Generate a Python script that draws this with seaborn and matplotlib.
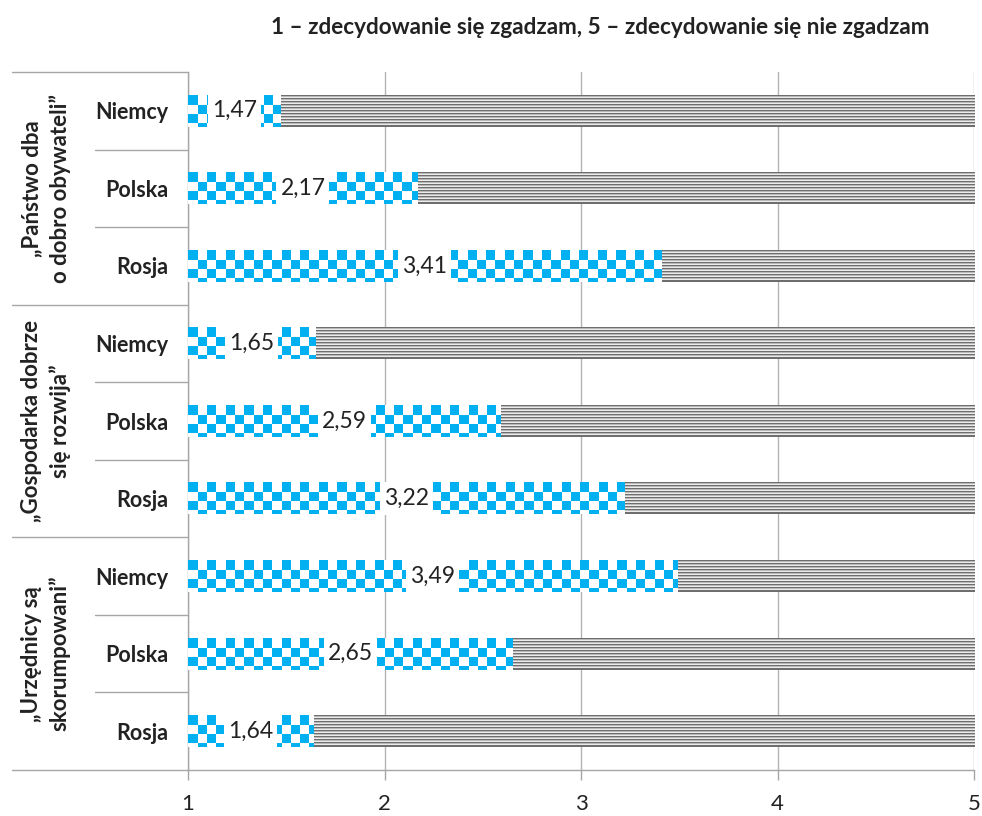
import numpy as np
import pandas as pd
import matplotlib
matplotlib.use("Agg")
import matplotlib.pyplot as plt
import matplotlib.transforms as mtransforms
from matplotlib.lines import Line2D
from matplotlib.patches import Rectangle
import seaborn as sns

# dane
groups = ["„Państwo dba\no dobro obywateli”",
          "„Gospodarka dobrze\nsię rozwija”",
          "„Urzędnicy są\nskorumpowani”"]
countries = ["Niemcy", "Polska", "Rosja"]
scores = [1.47, 2.17, 3.41,
          1.65, 2.59, 3.22,
          3.49, 2.65, 1.64]
scale_ticks = [1, 2, 3, 4, 5]
title = "1 – zdecydowanie się zgadzam, 5 – zdecydowanie się nie zgadzam"

sns.set_theme(style="white")
plt.rcParams['font.family'] = ['Lato', 'DejaVu Sans']
plt.rcParams['text.color'] = '#222222'

rows = [f"{g}|{c}" for g in groups for c in countries]
df = pd.DataFrame({
    "row": rows,
    "country": countries * len(groups),
    "score": scores,
    "top": [scale_ticks[-1]] * len(rows),
})

W, H = 982, 816
fig = plt.figure(figsize=(W / 100, H / 100), dpi=100)
ax = fig.add_axes([188 / W, 46 / H, 786 / W, 698 / H])

sns.barplot(data=df, x="top", y="row", order=rows, orient="h", width=0.41,
            color="#d9d9d9", errorbar=None, ax=ax, zorder=2)
sns.barplot(data=df, x="score", y="row", order=rows, orient="h", width=0.41,
            color="#00b0f0", errorbar=None, ax=ax, zorder=3)

ax.set_xlim(scale_ticks[0], scale_ticks[-1])
ax.set_ylim(len(rows) - 0.5, -0.5)

blue = np.array([0, 176, 240]) / 255
white = np.array([1.0, 1.0, 1.0])
stripe_cols = np.array([[110, 110, 110], [185, 185, 185], [235, 235, 235]]) / 255


def fill_with_pattern(patch, kind, z):
    x0, y0 = patch.get_x(), patch.get_y()
    w, h = patch.get_width(), patch.get_height()
    x0c = max(x0, scale_ticks[0])
    x1 = x0 + w
    (px0, py0), (px1, py1) = ax.transData.transform([(x0c, y0), (x1, y0 + h)])
    wpx = max(int(round(abs(px1 - px0))), 1)
    hpx = max(int(round(abs(py1 - py0))), 1)
    jj, ii = np.meshgrid(np.arange(wpx), np.arange(hpx))
    if kind == "checker":
        sq = 9.3
        mask = ((ii // sq).astype(int) + (jj // sq).astype(int)) % 2 == 0
        img = np.where(mask[..., None], blue, white)
    else:
        idx = ii % 3
        idx[0, :] = 0
        idx[-1, :] = 0
        img = stripe_cols[idx]
    ax.imshow(img, extent=(x0c, x1, y0 + h, y0), origin="upper",
              aspect="auto", interpolation="nearest", zorder=z)
    patch.set_visible(False)


n = len(rows)
gray_patches = ax.patches[:n]
blue_patches = ax.patches[n:2 * n]
for p in gray_patches:
    fill_with_pattern(p, "stripes", 2)
for p in blue_patches:
    fill_with_pattern(p, "checker", 3)

ax.set_xlim(scale_ticks[0], scale_ticks[-1])
ax.set_ylim(len(rows) - 0.5, -0.5)

# etykiety wartości z białym tłem na całą wysokość słupka
labels = []
for p, v in zip(blue_patches, scores):
    cx = (scale_ticks[0] + v) / 2
    cy = p.get_y() + p.get_height() / 2
    t = ax.text(cx, cy, f"{v:.2f}".replace(".", ","), ha="center",
                va="center", fontsize=16.5, zorder=5)
    labels.append((t, p))

fig.canvas.draw()
renderer = fig.canvas.get_renderer()
for t, p in labels:
    bb = t.get_window_extent(renderer)
    (dx0, _), (dx1, _) = ax.transData.inverted().transform(
        [(bb.x0 - 4, 0), (bb.x1 + 4, 0)])
    ax.add_patch(Rectangle((dx0, p.get_y() - 0.01), dx1 - dx0,
                           p.get_height() + 0.02, fc="white", ec="none",
                           zorder=4))

ax.set_xticks(scale_ticks)
ax.set_xticklabels([str(t) for t in scale_ticks])
ax.set_yticks(range(n))
ax.set_yticklabels(df["country"], fontweight="bold", fontsize=15.5)
ax.tick_params(axis="y", length=0, pad=14, labelcolor="#222222")
ax.tick_params(axis="x", bottom=True, length=7, width=1, color="#a6a6a6",
               direction="out", pad=10, labelsize=16, labelcolor="#222222")
ax.set_xlabel("")
ax.set_ylabel("")

ax.xaxis.grid(True, color="#b4b4b4", lw=1)
ax.set_axisbelow(True)
for s in ["top", "right"]:
    ax.spines[s].set_visible(False)
for s in ["left", "bottom"]:
    ax.spines[s].set_color("#a6a6a6")
    ax.spines[s].set_linewidth(1)

trans = mtransforms.blended_transform_factory(fig.transFigure, ax.transData)
for k in range(len(groups) + 1):
    y = k * len(countries) - 0.5
    fig.add_artist(Line2D([12 / W, 188 / W], [y, y], transform=trans,
                          color="#a6a6a6", lw=1))
for k in range(len(groups)):
    for j in range(1, len(countries)):
        y = k * len(countries) + j - 0.5
        fig.add_artist(Line2D([95 / W, 188 / W], [y, y], transform=trans,
                              color="#a6a6a6", lw=1))
    ax.text(46 / W, k * len(countries) + 1, groups[k], transform=trans,
            rotation=90, ha="center", va="center", multialignment="center",
            fontweight="bold", fontsize=16, linespacing=1.4)

fig.text(600 / W, 1 - 27 / H, title, ha="center", va="center",
         fontweight="bold", fontsize=16.2)

ax.set_xlim(scale_ticks[0], scale_ticks[-1])
ax.set_ylim(len(rows) - 0.5, -0.5)

fig.savefig("out.png", dpi=100)
